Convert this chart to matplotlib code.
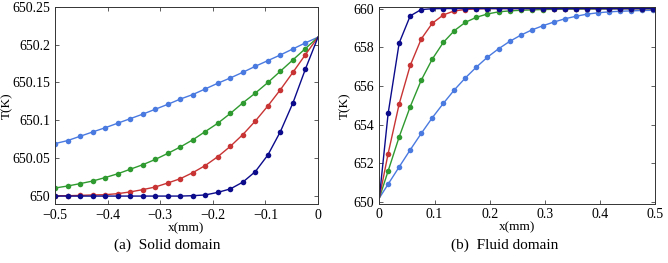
import numpy as np
import matplotlib
matplotlib.use("Agg")
import matplotlib.pyplot as plt

plt.rcParams['font.family'] = ['Liberation Serif', 'DejaVu Serif']
plt.rcParams['mathtext.fontset'] = 'stix'

# ---------------- Solid domain data ----------------
solid_x = [-0.5 + k * 0.5 / 21 for k in range(21)]
solid_end_x = 0.0
solid_end_T = 650.21
solid_light = [650.069, 650.073, 650.0787, 650.0844, 650.090, 650.096, 650.102,
               650.108, 650.1145, 650.121, 650.128, 650.134, 650.1415, 650.149,
               650.156, 650.1635, 650.1715, 650.179, 650.1865, 650.1945, 650.2025]
solid_green = [650.0102, 650.0128, 650.016, 650.0194, 650.024, 650.029, 650.035,
               650.041, 650.048, 650.056, 650.0645, 650.074, 650.085, 650.096,
               650.109, 650.123, 650.136, 650.150, 650.165, 650.180, 650.195]
solid_red = [650.0, 650.0, 650.0004, 650.001, 650.0013, 650.0027, 650.005,
             650.008, 650.0115, 650.0168, 650.0225, 650.0305, 650.040, 650.0517,
             650.0654, 650.081, 650.099, 650.119, 650.1405, 650.1635, 650.187]
solid_dark = [649.9995, 649.9995, 649.9995, 649.9995, 649.9995, 649.9995, 649.9995,
              649.9995, 649.9995, 649.9995, 649.9995, 650.0, 650.001, 650.0044,
              650.009, 650.018, 650.032, 650.054, 650.085, 650.123, 650.168]

# ---------------- Fluid domain data ----------------
fluid_x = [0.016 + 0.02 * k for k in range(25)]
fluid_start_x = 0.0
fluid_start_T = 650.21
fluid_dark = [654.58, 658.22, 659.62, 659.95, 659.99] + [660.0] * 20
fluid_red = [652.51, 655.07, 657.06, 658.43, 659.24, 659.67, 659.88, 659.95,
             659.98] + [660.0] * 16
fluid_green = [651.61, 653.37, 654.93, 656.30, 657.39, 658.25, 658.86, 659.29,
               659.55, 659.72, 659.83, 659.88, 659.91, 659.93, 659.95, 659.96,
               659.97, 659.97, 659.98, 659.98, 659.98, 659.99, 659.99, 659.99,
               659.99]
fluid_light = [650.93, 651.82, 652.70, 653.55, 654.36, 655.10, 655.80, 656.42,
               656.98, 657.49, 657.92, 658.30, 658.62, 658.89, 659.11, 659.30,
               659.47, 659.60, 659.71, 659.78, 659.83, 659.86, 659.88, 659.90,
               659.91]

solid_xticks = [-0.5, -0.4, -0.3, -0.2, -0.1, 0]
solid_xticklabels = ['\u22120.5', '\u22120.4', '\u22120.3', '\u22120.2', '\u22120.1', '0']
solid_yticks = [650, 650.05, 650.1, 650.15, 650.2, 650.25]
solid_yticklabels = ['650', '650.05', '650.1', '650.15', '650.2', '650.25']
fluid_xticks = [0, 0.1, 0.2, 0.3, 0.4, 0.5]
fluid_xticklabels = ['0', '0.1', '0.2', '0.3', '0.4', '0.5']
fluid_yticks = [650, 652, 654, 656, 658, 660]
fluid_yticklabels = ['650', '652', '654', '656', '658', '660']

colors = {'dark': '#0b0b8c', 'red': '#c83434', 'green': '#2f9a2f', 'light': '#4a7ae0'}

fig = plt.figure(figsize=(6.68, 2.63), dpi=100)
ax1 = fig.add_axes([55 / 668, 1 - 204 / 263, 263 / 668, 197 / 263])
ax2 = fig.add_axes([379.3 / 668, 1 - 203.5 / 263, 276 / 668, 196.5 / 263])

# solid: lines end at interface (0, 650.21)
for key, ys in [('light', solid_light), ('green', solid_green),
                ('red', solid_red), ('dark', solid_dark)]:
    ax1.plot(list(solid_x) + [solid_end_x], list(ys) + [solid_end_T],
             '-', color=colors[key], lw=1.0)
    ax1.plot(solid_x, ys, 'o', color=colors[key], ms=4.0, mec='none')

for key, ys in [('light', fluid_light), ('green', fluid_green),
                ('red', fluid_red), ('dark', fluid_dark)]:
    ax2.plot([fluid_start_x] + list(fluid_x), [fluid_start_T] + list(ys),
             '-', color=colors[key], lw=1.0)
    ax2.plot(fluid_x, ys, 'o', color=colors[key], ms=4.0, mec='none')

ax1.set_xlim(-0.5, 0)
ax1.set_ylim(649.989, 650.25)
ax1.set_xticks(solid_xticks)
ax1.set_xticklabels(solid_xticklabels)
ax1.set_yticks(solid_yticks)
ax1.set_yticklabels(solid_yticklabels)

ax2.set_xlim(0, 0.5)
ax2.set_ylim(649.93, 660.08)
ax2.set_xticks(fluid_xticks)
ax2.set_xticklabels(fluid_xticklabels)
ax2.set_yticks(fluid_yticks)
ax2.set_yticklabels(fluid_yticklabels)

for ax in (ax1, ax2):
    ax.tick_params(direction='in', top=True, right=True, length=3, width=0.6,
                   labelsize=10, pad=3.5, color='#444444')
    for s in ax.spines.values():
        s.set_linewidth(0.7)
        s.set_color('#333333')
    ax.set_xlabel('x(mm)', fontsize=9.5, labelpad=0)
    ax.set_ylabel('T(K)', fontsize=9.5)

ax1.yaxis.set_label_coords((13 - 55) / 263, 0.5)
ax2.yaxis.set_label_coords((351 - 379.3) / 276, 0.5)

fig.text(167 / 668, 1 - 245 / 263, '(a)  Solid domain', ha='center', va='center', fontsize=11)
fig.text(505 / 668, 1 - 245 / 263, '(b)  Fluid domain', ha='center', va='center', fontsize=11)

fig.savefig('out.png', dpi=100)
